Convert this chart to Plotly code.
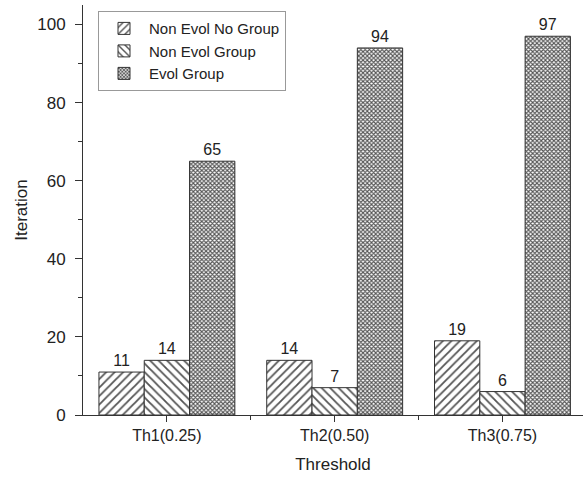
import plotly.graph_objects as go

categories = ["Th1(0.25)", "Th2(0.50)", "Th3(0.75)"]
series_names = ["Non Evol No Group", "Non Evol Group", "Evol Group"]
non_evol_no_group = [11, 14, 19]
non_evol_group = [14, 7, 6]
evol_group = [65, 94, 97]

series_values = [non_evol_no_group, non_evol_group, evol_group]
patterns = [
    dict(shape="/", size=6, solidity=0.3),
    dict(shape="\\", size=6, solidity=0.3),
    dict(shape="x", size=3, solidity=0.6),
]

FONT = "Liberation Sans, Arial, Helvetica, sans-serif"

fig = go.Figure()
for name, vals, pat in zip(series_names, series_values, patterns):
    fig.add_trace(go.Bar(
        name=name,
        x=categories,
        y=vals,
        text=[str(v) for v in vals],
        textposition="outside",
        textfont=dict(size=16, color="#222", family=FONT),
        cliponaxis=False,
        marker=dict(
            color="white",
            line=dict(color="#333", width=1),
            pattern=dict(fgcolor="#555", bgcolor="white", fillmode="replace", **pat),
        ),
    ))

fig.update_layout(
    width=583,
    height=485,
    margin=dict(l=83, r=0, t=5, b=70),
    paper_bgcolor="white",
    plot_bgcolor="white",
    barmode="group",
    bargap=0.19,
    bargroupgap=0,
    font=dict(family=FONT, size=16, color="#222"),
    showlegend=True,
    legend=dict(
        x=0.03, y=0.985, xanchor="left", yanchor="top",
        bgcolor="white", bordercolor="#999", borderwidth=1,
        font=dict(size=15, family=FONT, color="#222"),
        tracegroupgap=0, itemwidth=40,
    ),
    xaxis=dict(
        title=dict(text="Threshold", font=dict(size=17), standoff=14),
        range=[-0.5, 2.48],
        showline=True, linecolor="#333", linewidth=1,
        ticks="outside", ticklen=6, tickcolor="#333",
        tickfont=dict(size=16),
        showgrid=False, zeroline=False,
        minor=dict(ticks="outside", ticklen=4, tickcolor="#333", tickvals=[0.5, 1.5]),
    ),
    yaxis=dict(
        title=dict(text="Iteration", font=dict(size=17), standoff=5),
        range=[0, 105],
        tickvals=[0, 20, 40, 60, 80, 100],
        showline=True, linecolor="#333", linewidth=1,
        ticks="outside", ticklen=7, tickcolor="#333",
        tickfont=dict(size=17),
        ticklabelstandoff=6,
        showgrid=False, zeroline=False,
        minor=dict(ticks="outside", ticklen=4, tickcolor="#333", dtick=10),
    ),
)

fig.write_html("out.html")
